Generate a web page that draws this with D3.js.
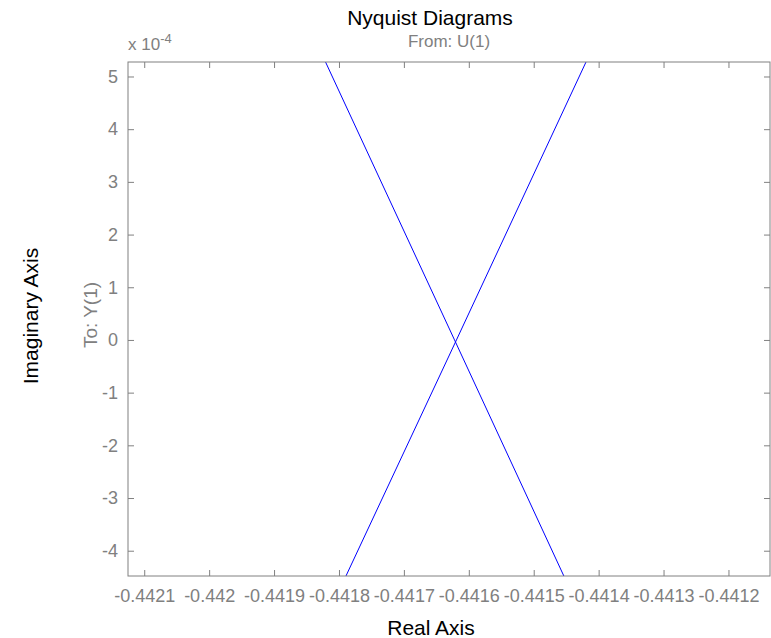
<!DOCTYPE html>
<html lang="en">
<head>
    <meta charset="UTF-8">
    <title>Nyquist Diagrams</title>
    <script src="https://d3js.org/d3.v7.min.js"></script>
    <style>
        body { margin: 0; background: #fff; }
        text { font-family: "Liberation Sans", Arial, sans-serif; }
    </style>
</head>
<body>
    <script>
        // tick values and labels (real axis, imaginary axis in units of 1e-4)
        const xTicks = [-0.4421, -0.4420, -0.4419, -0.4418, -0.4417, -0.4416, -0.4415, -0.4414, -0.4413, -0.4412];
        const xTickLabels = ["-0.4421", "-0.442", "-0.4419", "-0.4418", "-0.4417", "-0.4416", "-0.4415", "-0.4414", "-0.4413", "-0.4412"];
        const yTicks = [-4, -3, -2, -1, 0, 1, 2, 3, 4, 5];
        const yTickLabels = ["-4", "-3", "-2", "-1", "0", "1", "2", "3", "4", "5"];

        // Nyquist branches (real part, imaginary part x 1e-4)
        const posReal = [-0.441848, -0.441622, -0.441434];
        const posImag = [6, 0, -5];
        const negReal = [-0.441809, -0.441619, -0.441392];
        const negImag = [-5, 0, 6];

        const width = 771, height = 638;
        const mLeft = 128, mRight = 770, mTop = 62, mBottom = 576;
        const grey = "#808080";

        const svg = d3.select("body").append("svg")
            .attr("width", width)
            .attr("height", height);

        const x = d3.scaleLinear().domain([-0.442125, -0.441136]).range([mLeft, mRight]);
        const y = d3.scaleLinear().domain([-4.48, 5.275]).range([mBottom, mTop]);

        svg.append("clipPath").attr("id", "clip")
            .append("rect")
            .attr("x", mLeft).attr("y", mTop)
            .attr("width", mRight - mLeft).attr("height", mBottom - mTop);

        const line = d3.line().x(d => x(d[0])).y(d => y(d[1]));
        const branches = [
            d3.zip(posReal, posImag),
            d3.zip(negReal, negImag)
        ];
        svg.append("g").attr("clip-path", "url(#clip)")
            .selectAll("path")
            .data(branches)
            .enter().append("path")
            .attr("d", line)
            .attr("fill", "none")
            .attr("stroke", "#0000ff")
            .attr("stroke-width", 1);

        // axes: bottom/left with labels, top/right ticks only (ticks point inward)
        const axisStyle = (g) => {
            g.select(".domain").remove();
            g.selectAll("line").attr("stroke", grey);
            g.selectAll("text").attr("fill", grey).style("font-size", "18px");
        };

        svg.append("g")
            .attr("transform", `translate(0,${mBottom})`)
            .call(d3.axisBottom(x).tickValues(xTicks).tickSize(-6).tickPadding(13)
                .tickFormat((d, i) => xTickLabels[i]))
            .call(axisStyle);
        svg.append("g")
            .attr("transform", `translate(0,${mTop})`)
            .call(d3.axisTop(x).tickValues(xTicks).tickSize(-6).tickFormat(""))
            .call(axisStyle);
        svg.append("g")
            .attr("transform", `translate(${mLeft},0)`)
            .call(d3.axisLeft(y).tickValues(yTicks).tickSize(-6).tickPadding(10)
                .tickFormat((d, i) => yTickLabels[i]))
            .call(axisStyle);
        svg.append("g")
            .attr("transform", `translate(${mRight},0)`)
            .call(d3.axisRight(y).tickValues(yTicks).tickSize(-6).tickFormat(""))
            .call(axisStyle);

        svg.append("rect")
            .attr("x", mLeft).attr("y", mTop)
            .attr("width", mRight - mLeft).attr("height", mBottom - mTop)
            .attr("fill", "none")
            .attr("stroke", grey)
            .attr("stroke-width", 1);

        // titles
        svg.append("text")
            .attr("x", 430).attr("y", 25)
            .attr("text-anchor", "middle")
            .style("font-size", "21px")
            .text("Nyquist Diagrams");
        svg.append("text")
            .attr("x", 449).attr("y", 47)
            .attr("text-anchor", "middle")
            .attr("fill", grey)
            .style("font-size", "17px")
            .text("From: U(1)");

        const expo = svg.append("text")
            .attr("x", mLeft).attr("y", 50)
            .attr("fill", grey)
            .style("font-size", "17px");
        expo.append("tspan").text("x 10");
        expo.append("tspan").attr("dy", -7).style("font-size", "13px").text("-4");

        svg.append("text")
            .attr("x", 431).attr("y", 635)
            .attr("text-anchor", "middle")
            .style("font-size", "21px")
            .text("Real Axis");

        svg.append("text")
            .attr("transform", "translate(38,316) rotate(-90)")
            .attr("text-anchor", "middle")
            .style("font-size", "21px")
            .text("Imaginary Axis");

        svg.append("text")
            .attr("transform", "translate(97,315) rotate(-90)")
            .attr("text-anchor", "middle")
            .attr("fill", grey)
            .style("font-size", "19px")
            .text("To: Y(1)");
    </script>
</body>
</html>
